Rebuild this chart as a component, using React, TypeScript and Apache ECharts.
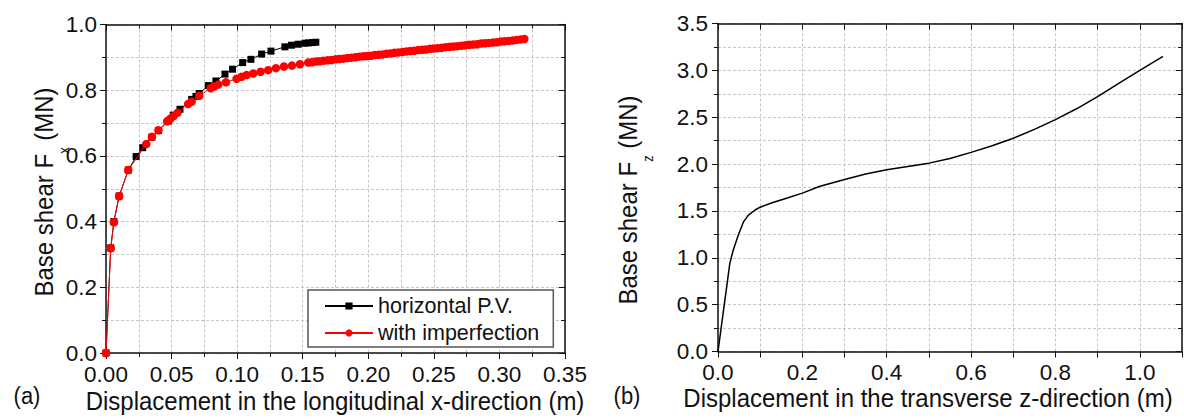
import React, { useEffect, useRef } from "react";
import * as echarts from "echarts";

const FONT = '"Liberation Sans", Arial, Helvetica, sans-serif';
const INK = "#111111";
const GRID_LINE = { color: "#c6c6c6", width: 1, type: [3, 2] as number[] };

// Panel (a): base shear vs. longitudinal displacement
const seriesNames = ["horizontal P.V.", "with imperfection"];

const horizontalPV: [number, number][] = [
  [0, 0], [0.0036, 0.32], [0.006, 0.4], [0.01, 0.478], [0.017, 0.557],
  [0.023, 0.598], [0.028, 0.625], [0.035, 0.657], [0.04, 0.677], [0.0475, 0.706],
  [0.0513, 0.724], [0.0564, 0.742], [0.0653, 0.772], [0.0686, 0.781], [0.0711, 0.79],
  [0.078, 0.814], [0.0838, 0.828], [0.0907, 0.849], [0.0965, 0.864], [0.1042, 0.884],
  [0.1105, 0.894], [0.1187, 0.91], [0.1258, 0.919], [0.1364, 0.932], [0.1415, 0.937],
  [0.1466, 0.94], [0.1517, 0.943], [0.1545, 0.944], [0.1575, 0.945], [0.16, 0.946],
];

const withImperfection: [number, number][] = [
  [0, 0], [0.0036, 0.319], [0.006, 0.398], [0.01, 0.477], [0.017, 0.557],
  [0.0307, 0.636], [0.035, 0.658], [0.04, 0.678], [0.0467, 0.705], [0.049, 0.713],
  [0.0515, 0.721], [0.0545, 0.731], [0.0627, 0.758], [0.0653, 0.765], [0.0711, 0.783],
  [0.0798, 0.806], [0.0823, 0.811], [0.0856, 0.817], [0.0915, 0.824], [0.0996, 0.835],
  [0.1034, 0.841], [0.1072, 0.846], [0.1123, 0.851], [0.1179, 0.856], [0.1237, 0.861],
  [0.1296, 0.867], [0.1357, 0.872], [0.1418, 0.875], [0.1479, 0.879], [0.1542, 0.884],
  [0.157, 0.885], [0.16, 0.887], [0.163, 0.888], [0.166, 0.89], [0.169, 0.891],
  [0.172, 0.892], [0.175, 0.894], [0.178, 0.895], [0.181, 0.896], [0.184, 0.898],
  [0.187, 0.899], [0.19, 0.9], [0.193, 0.902], [0.196, 0.903], [0.199, 0.904],
  [0.202, 0.905], [0.205, 0.907], [0.208, 0.908], [0.211, 0.909], [0.214, 0.911],
  [0.217, 0.912], [0.22, 0.914], [0.223, 0.915], [0.226, 0.916], [0.229, 0.918],
  [0.232, 0.919], [0.235, 0.92], [0.238, 0.922], [0.241, 0.923], [0.244, 0.924],
  [0.247, 0.926], [0.25, 0.927], [0.253, 0.928], [0.256, 0.929], [0.259, 0.931],
  [0.262, 0.932], [0.265, 0.933], [0.268, 0.934], [0.271, 0.935], [0.274, 0.937],
  [0.277, 0.938], [0.28, 0.939], [0.283, 0.94], [0.286, 0.942], [0.289, 0.943],
  [0.292, 0.944], [0.295, 0.945], [0.298, 0.946], [0.301, 0.948], [0.304, 0.949],
  [0.307, 0.95], [0.31, 0.951], [0.313, 0.953], [0.316, 0.954], [0.319, 0.956],
];

// Panel (b): base shear vs. transverse displacement
const transverseCurve: [number, number][] = [
  [0, 0], [0.014, 0.47], [0.028, 0.94], [0.036, 1.08], [0.048, 1.24],
  [0.06, 1.38], [0.072, 1.455], [0.088, 1.51], [0.1, 1.54], [0.13, 1.59],
  [0.155, 1.625], [0.2, 1.69], [0.24, 1.76], [0.3, 1.835], [0.35, 1.895],
  [0.4, 1.94], [0.45, 1.975], [0.5, 2.01], [0.55, 2.06], [0.6, 2.125],
  [0.65, 2.195], [0.7, 2.275], [0.75, 2.37], [0.8, 2.475], [0.85, 2.59],
  [0.9, 2.72], [0.95, 2.86], [1.0, 3.0], [1.055, 3.15],
];

const xTitleA = "Displacement in the longitudinal x-direction (m)";
const xTitleB = "Displacement in the transverse z-direction (m)";
const panelTags = ["(a)", "(b)"];

type Fmt = (v: number) => string;

function frameAxis(
  gridIndex: number,
  position: string,
  min: number,
  max: number,
  interval: number,
  fmt: Fmt | null,
  minorSplit: number,
  labelMargin: number
) {
  const isMain = fmt !== null;
  return {
    type: "value",
    gridIndex,
    position,
    min,
    max,
    interval,
    axisLine: { show: true, onZero: false, lineStyle: { color: INK, width: 1.5 } },
    axisTick: { show: true, inside: !isMain, length: 6, lineStyle: { color: INK, width: 1 } },
    minorTick: {
      show: minorSplit > 1,
      splitNumber: minorSplit,
      length: 4,
      lineStyle: { color: INK, width: 1 },
    },
    axisLabel: {
      show: isMain,
      formatter: fmt || undefined,
      fontFamily: FONT,
      fontSize: 22.5,
      lineHeight: 17,
      color: INK,
      margin: labelMargin,
      showMaxLabel: true,
    },
    splitLine: { show: isMain, lineStyle: GRID_LINE },
    minorSplitLine: { show: isMain && minorSplit > 1, lineStyle: GRID_LINE },
  };
}

function yTitle(x: number, y: number, sub: string) {
  return {
    type: "text",
    x,
    y,
    rotation: Math.PI / 2,
    scaleY: 1.1,
    silent: true,
    style: {
      text: `{a|Base shear F}{s|${sub}}{a| (MN)}`,
      align: "center",
      verticalAlign: "middle",
      textAlign: "center",
      textVerticalAlign: "middle",
      rich: {
        a: { fontSize: 24, fontFamily: FONT, fill: INK, verticalAlign: "top" },
        s: { fontSize: 13, fontFamily: FONT, fill: INK, verticalAlign: "bottom", lineHeight: 37 },
      },
    },
  };
}

function plainText(x: number, y: number, text: string, size: number, scaleY: number) {
  return {
    type: "text",
    x,
    y,
    scaleY,
    silent: true,
    style: {
      text,
      fontFamily: FONT,
      fontSize: size,
      fill: INK,
      align: "center",
      verticalAlign: "middle",
      textAlign: "center",
      textVerticalAlign: "middle",
    },
  };
}

export default function App() {
  const ref = useRef<HTMLDivElement>(null);

  useEffect(() => {
    if (!ref.current) return;
    const chart = echarts.init(ref.current, null, { renderer: "svg" });

    const fmt2: Fmt = (v) => v.toFixed(2);
    const fmt1: Fmt = (v) => v.toFixed(1);
    const fmtEven: Fmt = (v) => (Math.round(v * 10) % 2 === 0 ? v.toFixed(1) : "");

    chart.setOption({
      animation: false,
      backgroundColor: "#ffffff",
      grid: [
        { left: 106, top: 24.5, width: 459, height: 328.5, outerBoundsMode: "none" },
        { left: 718, top: 23.5, width: 464, height: 328, outerBoundsMode: "none" },
      ],
      xAxis: [
        frameAxis(0, "bottom", 0, 0.35, 0.05, fmt2, 2, 13),
        frameAxis(0, "top", 0, 0.35, 0.05, null, 2, 8),
        frameAxis(1, "bottom", 0, 1.1, 0.1, fmtEven, 1, 12),
        frameAxis(1, "top", 0, 1.1, 0.1, null, 1, 8),
      ],
      yAxis: [
        frameAxis(0, "left", 0, 1.0, 0.2, fmt1, 2, 9),
        frameAxis(0, "right", 0, 1.0, 0.2, null, 2, 8),
        frameAxis(1, "left", 0, 3.5, 0.5, fmt1, 2, 10),
        frameAxis(1, "right", 0, 3.5, 0.5, null, 2, 8),
      ],
      legend: {
        show: true,
        data: seriesNames,
        orient: "vertical",
        left: 308,
        top: 290,
        itemWidth: 48,
        itemHeight: 9,
        itemGap: 5,
        padding: [5, 14, 3, 16],
        borderColor: "#555555",
        borderWidth: 1.5,
        borderRadius: 0,
        backgroundColor: "#ffffff",
        textStyle: { fontFamily: FONT, fontSize: 21.5, color: INK },
      },
      series: [
        {
          type: "line",
          name: seriesNames[0],
          xAxisIndex: 0,
          yAxisIndex: 0,
          data: horizontalPV,
          symbol: "rect",
          symbolSize: 7,
          lineStyle: { color: "#000000", width: 1 },
          itemStyle: { color: "#000000" },
          z: 3,
        },
        {
          type: "line",
          name: seriesNames[1],
          xAxisIndex: 0,
          yAxisIndex: 0,
          data: withImperfection,
          symbol: "circle",
          symbolSize: 8.5,
          lineStyle: { color: "#ff0000", width: 1 },
          itemStyle: { color: "#ff0000" },
          z: 4,
        },
        {
          type: "line",
          name: "transverse",
          xAxisIndex: 2,
          yAxisIndex: 2,
          data: transverseCurve,
          showSymbol: false,
          symbol: "none",
          lineStyle: { color: "#000000", width: 1.5 },
          z: 3,
        },
      ],
      graphic: [
        yTitle(51, 192, "x"),
        yTitle(635, 200, "z"),
        plainText(335, 401, xTitleA, 24, 1.1),
        plainText(928, 398, xTitleB, 24, 1.1),
        plainText(27, 396, panelTags[0], 22, 1.1),
        plainText(627, 396, panelTags[1], 22, 1.1),
      ],
    });

    return () => chart.dispose();
  }, []);

  return (
    <div
      ref={ref}
      style={{ position: "fixed", left: 0, top: 0, width: 1184, height: 420, background: "#fff" }}
    />
  );
}
